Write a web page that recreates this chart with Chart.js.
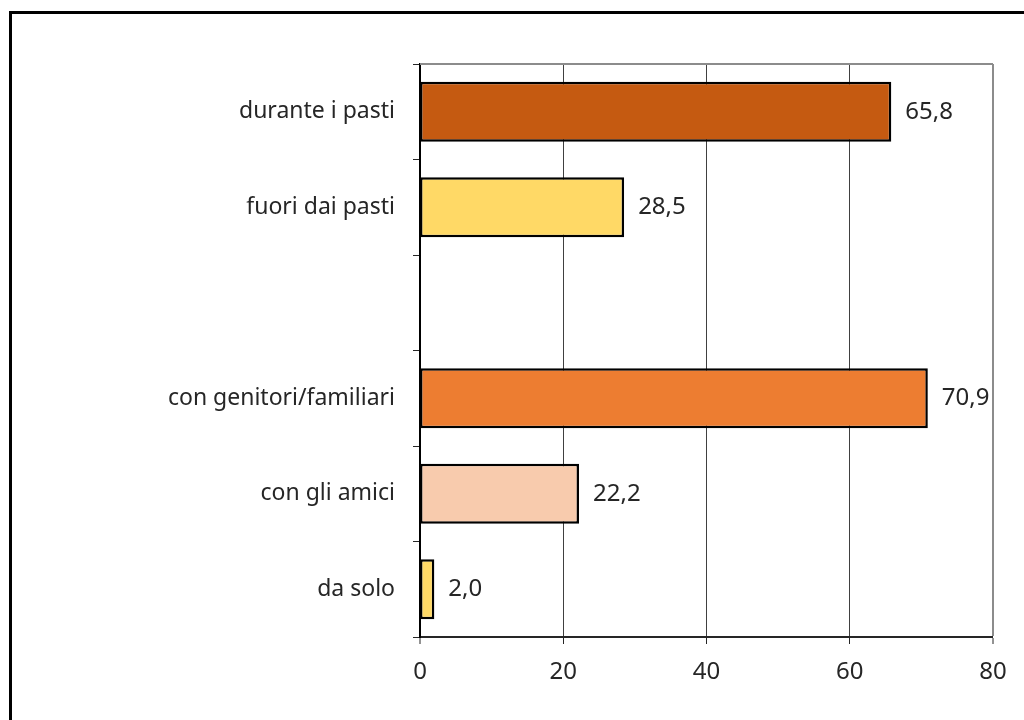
<!DOCTYPE html>
<html>
<head>
<meta charset="utf-8">
<script src="https://cdn.jsdelivr.net/npm/chart.js@4"></script>
<style>
  html, body { margin: 0; padding: 0; background: #fff; overflow: hidden; }
  #frame {
    position: absolute; left: 9px; top: 11px; width: 1100px; height: 800px;
    border-top: 3px solid #000; border-left: 3px solid #000;
  }
  #wrap { position: absolute; left: 0; top: 0; width: 1024px; height: 720px; }
</style>
</head>
<body>
<div id="frame"></div>
<div id="wrap"><canvas id="grafico"></canvas></div>
<script>
// categorie e valori (%)
const categorie = ["durante i pasti", "fuori dai pasti", "", "con genitori/familiari", "con gli amici", "da solo"];
const valori = [65.8, 28.5, null, 70.9, 22.2, 2.0];
const colori = ["#C55A11", "#FFD966", "#FFFFFF", "#ED7D31", "#F8CBAD", "#FFD966"];
const tickX = [0, 20, 40, 60, 80];

const FONT = "'Noto Sans', sans-serif";

// etichette con il valore a destra della barra
const etichette = {
  id: "etichette",
  afterDatasetsDraw(chart) {
    const ctx = chart.ctx;
    const meta = chart.getDatasetMeta(0);
    ctx.save();
    ctx.font = "24px " + FONT;
    ctx.fillStyle = "#262626";
    ctx.textBaseline = "middle";
    ctx.textAlign = "left";
    meta.data.forEach((bar, i) => {
      if (valori[i] == null) return;
      ctx.fillText(valori[i].toFixed(1).replace(".", ","), bar.x + 14, bar.y);
    });
    ctx.restore();
  },
};

// bordo superiore dell'area del grafico
const bordoArea = {
  id: "bordoArea",
  beforeDatasetsDraw(chart) {
    const { ctx, chartArea } = chart;
    ctx.save();
    ctx.strokeStyle = "#8c8c8c";
    ctx.lineWidth = 2;
    ctx.beginPath();
    ctx.moveTo(chartArea.left, chartArea.top);
    ctx.lineTo(chartArea.right, chartArea.top);
    ctx.stroke();
    ctx.restore();
  },
};

const data = {
  labels: categorie,
  datasets: [
    {
      data: valori,
      backgroundColor: colori,
      borderColor: "#000",
      borderWidth: 2.5,
      borderSkipped: false,
      categoryPercentage: 1,
      barPercentage: 0.63,
    },
  ],
};

const config = {
  type: "bar",
  data: data,
  options: {
    indexAxis: "y",
    responsive: false,
    animation: false,
    layout: { padding: { left: 0, top: 64, right: 31, bottom: 0 } },
    plugins: { legend: { display: false }, tooltip: { enabled: false } },
    scales: {
      x: {
        min: 0,
        max: 80,
        afterBuildTicks: (scale) => { scale.ticks = tickX.map((v) => ({ value: v })); },
        afterFit: (scale) => { scale.height = 83; },
        ticks: { font: { family: FONT, size: 24 }, color: "#262626", padding: 14 },
        grid: {
          color: (c) => (c.tick && c.tick.value === 80 ? "#8c8c8c" : "#404040"),
          lineWidth: (c) => (c.tick && c.tick.value === 0 ? 0 : (c.tick && c.tick.value === 80 ? 2 : 1)),
          tickColor: "#262626",
          tickLength: 7,
          tickWidth: 1,
        },
        border: { color: "#262626", width: 2 },
      },
      y: {
        afterFit: (scale) => { scale.width = 420; },
        ticks: { font: { family: FONT, size: 23 }, color: "#262626", padding: 18 },
        grid: {
          offset: true,
          drawOnChartArea: false,
          tickColor: "#262626",
          tickLength: 7,
          tickWidth: 1,
        },
        border: { color: "#000", width: 2 },
      },
    },
  },
  plugins: [etichette, bordoArea],
};

const canvas = document.getElementById("grafico");
canvas.width = 1024;
canvas.height = 720;
const grafico = new Chart(canvas, config);
</script>
</body>
</html>
